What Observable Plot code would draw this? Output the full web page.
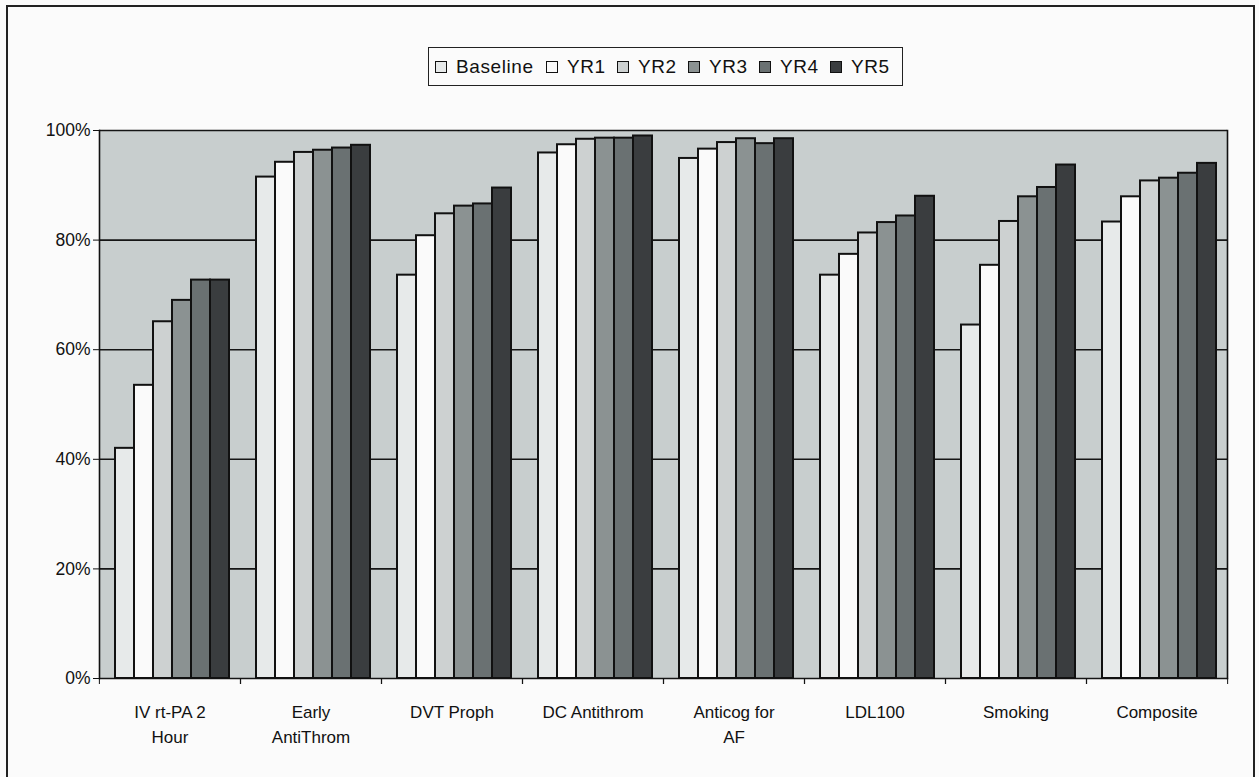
<!DOCTYPE html>
<html>
<head>
<meta charset="utf-8">
<script src="https://cdn.jsdelivr.net/npm/d3@7"></script>
<script src="https://cdn.jsdelivr.net/npm/@observablehq/plot@0.6"></script>
<style>
  html, body { margin: 0; padding: 0; overflow: hidden; background: #fbfbfb; width: 1259px; height: 777px; }
  #frame { position: absolute; left: 6px; top: 5px; width: 1249px; height: 800px; box-sizing: border-box; border: 2px solid #222; }
  #legend { margin-top: 40px; margin-left: 420px; width: 475px; height: 39px; box-sizing: border-box; border: 1.5px solid #222; display: flex; align-items: center; padding-left: 6px; font-family: "Liberation Sans", Arial, sans-serif; font-size: 19px; letter-spacing: 0.6px; color: #111; background: #fbfbfb; }
  .item { display: flex; align-items: center; width: 71px; flex: none; }
  .item:first-child { width: 111px; }
  .sw { width: 10px; height: 10px; border: 1.5px solid #111; margin-right: 9px; flex: none; }
  #chart { display: block; }
</style>
</head>
<body>
<div id="frame">
  <div id="legend"></div>
  <div id="chart"></div>
</div>
<script>
const categories = ["IV rt-PA 2 Hour", "Early AntiThrom", "DVT Proph", "DC Antithrom", "Anticog for AF", "LDL100", "Smoking", "Composite"];
const categoryLabels = ["IV rt-PA 2\nHour", "Early\nAntiThrom", "DVT Proph", "DC Antithrom", "Anticog for\nAF", "LDL100", "Smoking", "Composite"];
const series = ["Baseline", "YR1", "YR2", "YR3", "YR4", "YR5"];
const seriesColors = ["#e7eaea", "#fafafa", "#cdd1d1", "#8b9292", "#6a7172", "#3a3d3f"];

const baseline = [42.0, 91.5, 73.6, 95.9, 94.9, 73.6, 64.5, 83.3];
const yr1      = [53.5, 94.2, 80.8, 97.4, 96.6, 77.4, 75.4, 87.9];
const yr2      = [65.1, 96.0, 84.8, 98.4, 97.8, 81.3, 83.4, 90.8];
const yr3      = [69.0, 96.4, 86.2, 98.6, 98.5, 83.2, 87.9, 91.3];
const yr4      = [72.7, 96.8, 86.6, 98.6, 97.6, 84.4, 89.6, 92.2];
const yr5      = [72.7, 97.3, 89.5, 99.0, 98.5, 88.0, 93.7, 94.0];
const yTicks = [0, 20, 40, 60, 80, 100];

const valuesBySeries = [baseline, yr1, yr2, yr3, yr4, yr5];
const data = [];
categories.forEach((c, i) => {
  series.forEach((s, j) => data.push({category: c, series: s, value: valuesBySeries[j][i]}));
});
const labelOf = new Map(categories.map((c, i) => [c, categoryLabels[i]]));

// legend
const legend = document.getElementById("legend");
series.forEach((s, j) => {
  const it = document.createElement("div");
  it.className = "item";
  const sw = document.createElement("div");
  sw.className = "sw";
  sw.style.background = seriesColors[j];
  it.appendChild(sw);
  const t = document.createElement("span");
  t.textContent = s;
  it.appendChild(t);
  legend.appendChild(it);
});

const W = 1245, ML = 90, MR = 25;
const halfStep = (W - ML - MR) / categories.length / 2;
const bg = "#c8cece";

const chart = Plot.plot({
  width: W,
  height: 672,
  marginTop: 44,
  marginBottom: 80,
  marginLeft: ML,
  marginRight: MR,
  style: {fontFamily: "'Liberation Sans', Arial, sans-serif", color: "#111", background: "transparent", overflow: "visible"},
  fx: {domain: categories, padding: 0, label: null},
  x: {domain: series, paddingInner: 0, paddingOuter: 0.69, align: 0.6, axis: null},
  y: {domain: [0, 100], label: null},
  color: {domain: series, range: seriesColors},
  marks: [
    Plot.frame({fill: bg, stroke: bg, strokeWidth: 1}),
    Plot.ruleY(yTicks, {stroke: "#151515", strokeWidth: 1.6}),
    Plot.barY(data, {fx: "category", x: "series", y: "value", fill: "series", stroke: "#111", strokeWidth: 2}),
    Plot.frame({anchor: "left", facetAnchor: "left", stroke: "#111", strokeWidth: 1.6}),
    Plot.frame({anchor: "right", facetAnchor: "right", stroke: "#111", strokeWidth: 1.6}),
    Plot.axisY({ticks: yTicks, tickSize: 6, tickPadding: 3, tickFormat: d => d + "%", fontSize: 17.5, stroke: "#111", label: null}),
    Plot.axisFx({anchor: "bottom", tickSize: 6, text: null, dx: -halfStep, stroke: "#111", label: null}),
    Plot.axisFx({anchor: "bottom", tickSize: 6, text: null, dx: halfStep, stroke: "#111", label: null}),
    Plot.axisFx({anchor: "bottom", tickSize: 0, tickPadding: 21, tickFormat: d => labelOf.get(d), fontSize: 17, lineHeight: 1.5, label: null})
  ]
});
document.getElementById("chart").appendChild(chart);
</script>
</body>
</html>
